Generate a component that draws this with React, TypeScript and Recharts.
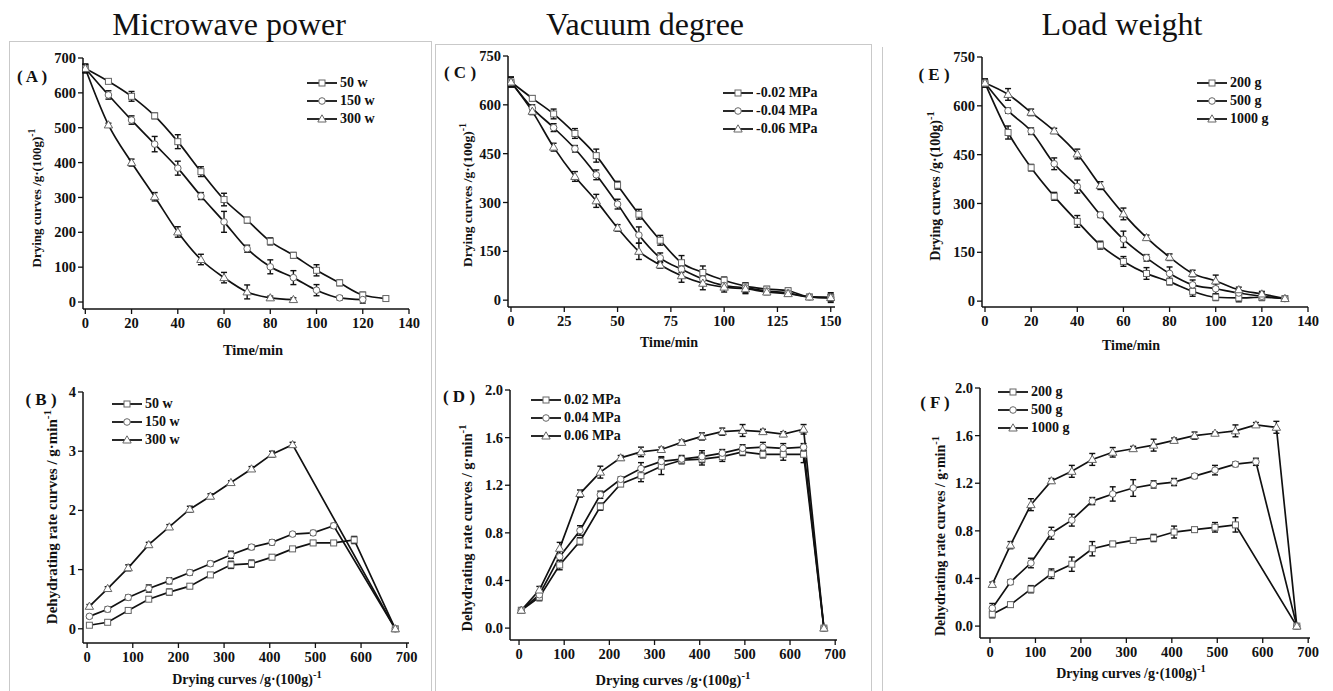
import React from "react";
import { LineChart, Line, XAxis, YAxis, ErrorBar, Legend, Label } from "recharts";

const SERIF = '"Liberation Serif", "Times New Roman", serif';
const INK = "#111";

// ---- top row: drying curves vs time ----
const timeA = [0, 10, 20, 30, 40, 50, 60, 70, 80, 90, 100, 110, 120, 130];
const timeC = [0, 10, 20, 30, 40, 50, 60, 70, 80, 90, 100, 110, 120, 130, 140, 150];

const a50w = [670, 633, 590, 534, 460, 374, 294, 235, 174, 134, 91, 55, 20, 10];
const a50wErr = [12, 5, 14, 8, 20, 14, 18, 8, 10, 8, 16, 8, 8, 4];
const a150w = [670, 594, 522, 453, 384, 304, 230, 153, 101, 70, 34, 12, 7];
const a150wErr = [12, 12, 12, 22, 20, 10, 30, 10, 20, 20, 16, 6, 10];
const a300w = [670, 508, 400, 302, 201, 122, 70, 29, 12, 7];
const a300wErr = [12, 5, 10, 12, 15, 15, 15, 20, 5, 5];

const c002 = [670, 620, 572, 512, 444, 353, 264, 184, 115, 85, 61, 43, 34, 29, 10, 8];
const c002Err = [15, 8, 15, 15, 20, 12, 15, 15, 22, 20, 10, 10, 8, 8, 6, 15];
const c004 = [670, 590, 530, 465, 385, 295, 200, 130, 95, 65, 45, 38, 28, 22, 10, 8];
const c004Err = [15, 10, 12, 10, 15, 15, 25, 15, 10, 20, 12, 15, 8, 10, 5, 10];
const c006 = [670, 580, 470, 380, 305, 222, 150, 108, 75, 52, 40, 35, 25, 20, 10, 8];
const c006Err = [15, 10, 12, 15, 20, 10, 25, 10, 20, 20, 15, 15, 8, 8, 5, 10];

const e200g = [670, 518, 410, 322, 245, 172, 122, 85, 60, 30, 12, 10, 12, 8];
const e200gErr = [12, 20, 10, 12, 18, 12, 15, 18, 10, 15, 10, 12, 10, 5];
const e500g = [670, 585, 522, 422, 352, 265, 190, 133, 85, 50, 38, 25, 15, 8];
const e500gErr = [12, 8, 10, 18, 20, 8, 25, 10, 20, 15, 15, 8, 10, 5];
const e1000g = [670, 635, 580, 523, 452, 355, 268, 195, 135, 85, 62, 35, 22, 8];
const e1000gErr = [12, 18, 10, 8, 15, 12, 18, 8, 10, 10, 18, 8, 8, 5];

// ---- bottom row: dehydrating rate vs moisture ----
const moistureX = [5, 45, 90, 135, 180, 225, 270, 315, 360, 405, 450, 495, 540, 585, 630];
const moistureEnd = 675;

const b50w = [0.06, 0.11, 0.31, 0.5, 0.62, 0.72, 0.91, 1.08, 1.1, 1.21, 1.35, 1.45, 1.45, 1.5, 0];
const b50wErr = [0.03, 0.03, 0.04, 0.03, 0.05, 0.04, 0.03, 0.06, 0.06, 0.04, 0.03, 0.04, 0.03, 0.06, 0.02];
const b150w = [0.21, 0.33, 0.53, 0.68, 0.81, 0.95, 1.1, 1.25, 1.38, 1.46, 1.6, 1.62, 1.74, 0];
const b150wErr = [0.03, 0.04, 0.04, 0.06, 0.05, 0.04, 0.04, 0.06, 0.04, 0.04, 0.03, 0.04, 0.04, 0.02];
const b300w = [0.38, 0.68, 1.03, 1.42, 1.72, 2.02, 2.24, 2.47, 2.7, 2.95, 3.11, 0];
const b300wErr = [0.03, 0.03, 0.05, 0.04, 0.04, 0.05, 0.04, 0.03, 0.04, 0.05, 0.04, 0.02];

const d002 = [0.15, 0.26, 0.53, 0.73, 1.02, 1.21, 1.28, 1.36, 1.41, 1.42, 1.44, 1.48, 1.46, 1.46, 1.46, 0];
const d002Err = [0.02, 0.03, 0.04, 0.03, 0.03, 0.02, 0.05, 0.07, 0.03, 0.05, 0.04, 0.03, 0.03, 0.05, 0.07, 0.01];
const d004 = [0.15, 0.28, 0.6, 0.82, 1.12, 1.25, 1.34, 1.4, 1.42, 1.44, 1.47, 1.51, 1.52, 1.51, 1.52, 0];
const d004Err = [0.02, 0.03, 0.05, 0.04, 0.03, 0.02, 0.05, 0.04, 0.03, 0.05, 0.03, 0.03, 0.04, 0.04, 0.03, 0.01];
const d006 = [0.15, 0.32, 0.67, 1.13, 1.31, 1.43, 1.48, 1.5, 1.56, 1.61, 1.65, 1.66, 1.65, 1.63, 1.67, 0];
const d006Err = [0.02, 0.03, 0.05, 0.03, 0.05, 0.02, 0.04, 0.02, 0.02, 0.03, 0.03, 0.05, 0.02, 0.02, 0.04, 0.01];

const f200g = [0.1, 0.18, 0.31, 0.44, 0.52, 0.65, 0.69, 0.72, 0.74, 0.79, 0.81, 0.83, 0.85, 0];
const f200gErr = [0.03, 0.02, 0.03, 0.04, 0.06, 0.06, 0.02, 0.02, 0.03, 0.05, 0.02, 0.04, 0.06, 0.01];
const f500g = [0.15, 0.37, 0.53, 0.78, 0.89, 1.05, 1.11, 1.16, 1.19, 1.21, 1.26, 1.31, 1.36, 1.38, 0];
const f500gErr = [0.04, 0.02, 0.04, 0.05, 0.05, 0.03, 0.06, 0.07, 0.03, 0.03, 0.02, 0.04, 0.02, 0.03, 0.01];
const f1000g = [0.35, 0.68, 1.02, 1.22, 1.3, 1.4, 1.46, 1.49, 1.52, 1.56, 1.6, 1.62, 1.64, 1.69, 1.67, 0];
const f1000gErr = [0.02, 0.03, 0.05, 0.02, 0.05, 0.05, 0.04, 0.02, 0.05, 0.02, 0.03, 0.01, 0.05, 0.02, 0.05, 0.01];

// ticks
const ticksTimeA = [0, 20, 40, 60, 80, 100, 120, 140];
const minorTimeA = [10, 30, 50, 70, 90, 110, 130];
const ticksTimeC = [0, 25, 50, 75, 100, 125, 150];
const minorTimeC = [12.5, 37.5, 62.5, 87.5, 112.5, 137.5];
const ticksDryA = [0, 100, 200, 300, 400, 500, 600, 700];
const minorDryA = [50, 150, 250, 350, 450, 550, 650];
const ticksDry750 = [0, 150, 300, 450, 600, 750];
const minorDry750 = [75, 225, 375, 525, 675];
const ticksMoist = [0, 100, 200, 300, 400, 500, 600, 700];
const minorMoist = [50, 150, 250, 350, 450, 550, 650];
const ticksRateB = [0, 1, 2, 3, 4];
const minorRateB = [0.5, 1.5, 2.5, 3.5];
const ticksRate2 = [0, 0.4, 0.8, 1.2, 1.6, 2.0];
const minorRate2 = [0.2, 0.6, 1.0, 1.4, 1.8];

type Shape = "square" | "circle" | "triangle";
type Pt = { x: number; y: number; e: number };
type Series = { name: string; shape: Shape; data: Pt[] };

const zip = (xs: number[], ys: number[], es: number[]): Pt[] => ys.map((y, i) => ({ x: xs[i], y, e: es[i] }));
const rate = (ys: number[], es: number[]): Pt[] => zip([...moistureX.slice(0, ys.length - 1), moistureEnd], ys, es);

function Marker({ cx, cy, shape }: { cx?: number; cy?: number; shape: Shape }) {
  if (cx == null || cy == null) return null;
  const st = { fill: "#fff", stroke: "#666", strokeWidth: 1 };
  if (shape === "square") return <rect x={cx - 3} y={cy - 3} width={6} height={6} {...st} />;
  if (shape === "circle") return <circle cx={cx} cy={cy} r={3.3} {...st} />;
  return <path d={`M${cx},${cy - 4.2}L${cx + 4.2},${cy + 3}L${cx - 4.2},${cy + 3}Z`} {...st} />;
}

const dotFor = (shape: Shape) => (p: any) => (
  <g key={`${shape}-${p.index}`}>
    <Marker cx={p.cx} cy={p.cy} shape={shape} />
  </g>
);

type Panel = {
  tag: string;
  tagPos: [number, number];
  box: [number, number, number, number];
  plot: [number, number, number, number];
  xDomain: [number, number];
  yDomain: [number, number];
  xTicks: number[];
  xMinor: number[];
  yTicks: number[];
  yMinor: number[];
  yFixed?: boolean;
  curve: "monotone" | "linear";
  xLabel: string;
  xSup: boolean;
  xLabelPos: [number, number, number];
  yLabel: string;
  yLabelPos: [number, number, number];
  legendPos: [number, number];
  series: Series[];
};

const panels: Panel[] = [
  {
    tag: "( A )", tagPos: [32, 77], box: [10, 44, 418, 322], plot: [83, 409, 58, 309],
    xDomain: [-1, 140], yDomain: [-20, 700], xTicks: ticksTimeA, xMinor: minorTimeA, yTicks: ticksDryA, yMinor: minorDryA,
    curve: "monotone", xLabel: "Time/min", xSup: false, xLabelPos: [253, 350, 14.5],
    yLabel: "Drying curves /g·(100g)", yLabelPos: [36, 198, 13], legendPos: [307, 74],
    series: [
      { name: "50 w", shape: "square", data: zip(timeA, a50w, a50wErr) },
      { name: "150 w", shape: "circle", data: zip(timeA, a150w, a150wErr) },
      { name: "300 w", shape: "triangle", data: zip(timeA, a300w, a300wErr) },
    ],
  },
  {
    tag: "( C )", tagPos: [460, 73], box: [437, 44, 430, 316], plot: [508, 835, 56, 307],
    xDomain: [-1.4, 152], yDomain: [-21, 750], xTicks: ticksTimeC, xMinor: minorTimeC, yTicks: ticksDry750, yMinor: minorDry750,
    curve: "monotone", xLabel: "Time/min", xSup: false, xLabelPos: [669, 342, 14],
    yLabel: "Drying curves /g·(100g)", yLabelPos: [467, 195, 13.5], legendPos: [723, 84],
    series: [
      { name: "-0.02 MPa", shape: "square", data: zip(timeC, c002, c002Err) },
      { name: "-0.04 MPa", shape: "circle", data: zip(timeC, c004, c004Err) },
      { name: "-0.06 MPa", shape: "triangle", data: zip(timeC, c006, c006Err) },
    ],
  },
  {
    tag: "( E )", tagPos: [934, 75], box: [884, 44, 445, 322], plot: [982, 1308, 57, 307],
    xDomain: [-1.3, 140], yDomain: [-18, 750], xTicks: ticksTimeA, xMinor: minorTimeA, yTicks: ticksDry750, yMinor: minorDry750,
    curve: "monotone", xLabel: "Time/min", xSup: false, xLabelPos: [1131, 345, 14],
    yLabel: "Drying curves /g·(100g)", yLabelPos: [935, 186, 14], legendPos: [1197, 74],
    series: [
      { name: "200 g", shape: "square", data: zip(timeA, e200g, e200gErr) },
      { name: "500 g", shape: "circle", data: zip(timeA, e500g, e500gErr) },
      { name: "1000 g", shape: "triangle", data: zip(timeA, e1000g, e1000gErr) },
    ],
  },
  {
    tag: "( B )", tagPos: [41, 400], box: [10, 376, 418, 315], plot: [83, 409, 392, 643],
    xDomain: [-9, 705], yDomain: [-0.24, 4], xTicks: ticksMoist, xMinor: minorMoist, yTicks: ticksRateB, yMinor: minorRateB,
    curve: "linear", xLabel: "Drying curves /g·(100g)", xSup: true, xLabelPos: [247, 679, 14],
    yLabel: "Dehydrating rate curves / g·min", yLabelPos: [52, 517, 15], legendPos: [112, 395],
    series: [
      { name: "50 w", shape: "square", data: rate(b50w, b50wErr) },
      { name: "150 w", shape: "circle", data: rate(b150w, b150wErr) },
      { name: "300 w", shape: "triangle", data: rate(b300w, b300wErr) },
    ],
  },
  {
    tag: "( D )", tagPos: [459, 397], box: [437, 376, 430, 315], plot: [510, 837, 390, 640],
    xDomain: [-20, 704], yDomain: [-0.1, 2], xTicks: ticksMoist, xMinor: minorMoist, yTicks: ticksRate2, yMinor: minorRate2, yFixed: true,
    curve: "linear", xLabel: "Drying curves /g·(100g)", xSup: true, xLabelPos: [673, 680, 14.5],
    yLabel: "Dehydrating rate curves / g·min", yLabelPos: [467, 528, 14.5], legendPos: [531, 391],
    series: [
      { name: "0.02 MPa", shape: "square", data: rate(d002, d002Err) },
      { name: "0.04 MPa", shape: "circle", data: rate(d004, d004Err) },
      { name: "0.06 MPa", shape: "triangle", data: rate(d006, d006Err) },
    ],
  },
  {
    tag: "( F )", tagPos: [935, 403], box: [884, 376, 445, 315], plot: [980, 1310, 388, 638],
    xDomain: [-22, 704], yDomain: [-0.1, 2], xTicks: ticksMoist, xMinor: minorMoist, yTicks: ticksRate2, yMinor: minorRate2, yFixed: true,
    curve: "linear", xLabel: "Drying curves /g·(100g)", xSup: true, xLabelPos: [1131, 673, 14],
    yLabel: "Dehydrating rate curves / g·min", yLabelPos: [940, 536, 14], legendPos: [998, 383],
    series: [
      { name: "200 g", shape: "square", data: rate(f200g, f200gErr) },
      { name: "500 g", shape: "circle", data: rate(f500g, f500gErr) },
      { name: "1000 g", shape: "triangle", data: rate(f1000g, f1000gErr) },
    ],
  },
];

const makeTick = (axis: "x" | "y", fixed?: boolean) => (props: any) => {
  const { x, y, payload, textAnchor } = props;
  const v: number = payload.value;
  const txt = fixed ? v.toFixed(1) : String(v);
  return (
    <text x={x} y={y} dy={axis === "x" ? "0.75em" : "0.35em"} textAnchor={textAnchor}
      fontFamily={SERIF} fontWeight={700} fontSize={14.5} fill={INK}>
      {txt}
    </text>
  );
};

function PanelChart({ p }: { p: Panel }) {
  const [l, t, w, h] = p.box;
  const [x0, x1, y0, y1] = p.plot;
  const yW = x0 - l;
  const xH = t + h - y1;

  const xLab = () => {
    const [cx, cy, fs] = p.xLabelPos;
    return (
      <text x={cx - l} y={cy - t} dy="0.35em" textAnchor="middle" fontFamily={SERIF} fontWeight={700} fontSize={fs} fill={INK}>
        {p.xLabel}
        {p.xSup && <tspan dy={-6} fontSize={fs * 0.75}>-1</tspan>}
      </text>
    );
  };
  const yLab = () => {
    const [cx, cy, fs] = p.yLabelPos;
    const X = cx - l;
    const Y = cy - t;
    return (
      <text x={X} y={Y} dy="0.35em" transform={`rotate(-90, ${X}, ${Y})`} textAnchor="middle" fontFamily={SERIF} fontWeight={700} fontSize={fs} fill={INK}>
        {p.yLabel}
        <tspan dy={-6} fontSize={fs * 0.75}>-1</tspan>
      </text>
    );
  };

  const legend = () => (
    <div style={{ fontFamily: SERIF, fontWeight: 700, fontSize: 14, color: INK }}>
      {p.series.map((s) => (
        <div key={s.name} style={{ display: "flex", alignItems: "center", height: 18 }}>
          <svg width={30} height={12} style={{ display: "block" }}>
            <line x1={0} y1={6} x2={30} y2={6} stroke={INK} strokeWidth={1.8} />
            <Marker cx={15} cy={6} shape={s.shape} />
          </svg>
          <span style={{ marginLeft: 3, lineHeight: "18px", whiteSpace: "nowrap" }}>{s.name}</span>
        </div>
      ))}
    </div>
  );

  return (
    <div style={{ position: "absolute", left: l, top: t, width: w, height: h, fontFamily: SERIF, fontWeight: 700 }}>
      <LineChart width={w} height={h} margin={{ top: y0 - t, right: l + w - x1, bottom: 0, left: 0 }}>
        <XAxis xAxisId="minor" type="number" domain={p.xDomain} allowDataOverflow ticks={p.xMinor} height={0}
          axisLine={false} tick={false} tickSize={3} tickLine={{ stroke: INK, strokeWidth: 1.2 }} />
        <YAxis yAxisId="minor" type="number" domain={p.yDomain} allowDataOverflow ticks={p.yMinor} width={0}
          axisLine={false} tick={false} tickSize={3} tickLine={{ stroke: INK, strokeWidth: 1.2 }} />
        <XAxis type="number" dataKey="x" domain={p.xDomain} allowDataOverflow ticks={p.xTicks} height={xH}
          interval={0} tickSize={5} tickMargin={3} tick={makeTick("x")}
          axisLine={{ stroke: INK, strokeWidth: 1.5 }} tickLine={{ stroke: INK, strokeWidth: 1.3 }}>
          <Label content={xLab} />
        </XAxis>
        <YAxis type="number" domain={p.yDomain} allowDataOverflow ticks={p.yTicks} width={yW}
          interval={0} tickSize={5} tickMargin={2} tick={makeTick("y", p.yFixed)}
          axisLine={{ stroke: INK, strokeWidth: 1.5 }} tickLine={{ stroke: INK, strokeWidth: 1.3 }}>
          <Label content={yLab} />
        </YAxis>
        <Legend layout="vertical" align="center" verticalAlign="middle" content={legend}
          wrapperStyle={{ left: p.legendPos[0] - l, top: p.legendPos[1] - t, width: "auto", height: "auto" }} />
        {p.series.map((s) => (
          <Line key={s.name} name={s.name} data={s.data} dataKey="y" type={p.curve} stroke={INK} strokeWidth={1.7}
            dot={dotFor(s.shape)} activeDot={false} isAnimationActive={false}>
            <ErrorBar dataKey="e" width={3} stroke={INK} strokeWidth={1.4} direction="y" isAnimationActive={false} />
          </Line>
        ))}
      </LineChart>
    </div>
  );
}

const titles: [string, number][] = [
  ["Microwave power", 229],
  ["Vacuum degree", 645],
  ["Load weight", 1122],
];

const frameLine = "1px solid #c9c9c9";

export default function App() {
  return (
    <div style={{ position: "absolute", left: 0, top: 0, width: 1333, height: 691, background: "#fff", overflow: "hidden" }}>
      <div style={{ position: "absolute", left: 9, top: 41, width: 421, height: 660, borderLeft: frameLine, borderTop: frameLine, borderRight: frameLine }} />
      <div style={{ position: "absolute", left: 435, top: 44, width: 435, height: 660, borderLeft: frameLine, borderTop: frameLine, borderRight: frameLine }} />
      <div style={{ position: "absolute", left: 882, top: 47, width: 0, height: 660, borderLeft: frameLine }} />
      {titles.map(([txt, cx]) => (
        <div key={txt} style={{ position: "absolute", left: cx - 200, top: 8, width: 400, textAlign: "center", fontFamily: SERIF, fontSize: 32, lineHeight: "32px", color: "#111" }}>
          {txt}
        </div>
      ))}
      {panels.map((p) => (
        <PanelChart key={p.tag} p={p} />
      ))}
      {panels.map((p) => (
        <div key={p.tag + "-tag"} style={{ position: "absolute", left: p.tagPos[0] - 30, top: p.tagPos[1] - 10, width: 60, textAlign: "center", fontFamily: SERIF, fontWeight: 700, fontSize: 17, lineHeight: "20px", color: INK, whiteSpace: "pre" }}>
          {p.tag}
        </div>
      ))}
    </div>
  );
}
